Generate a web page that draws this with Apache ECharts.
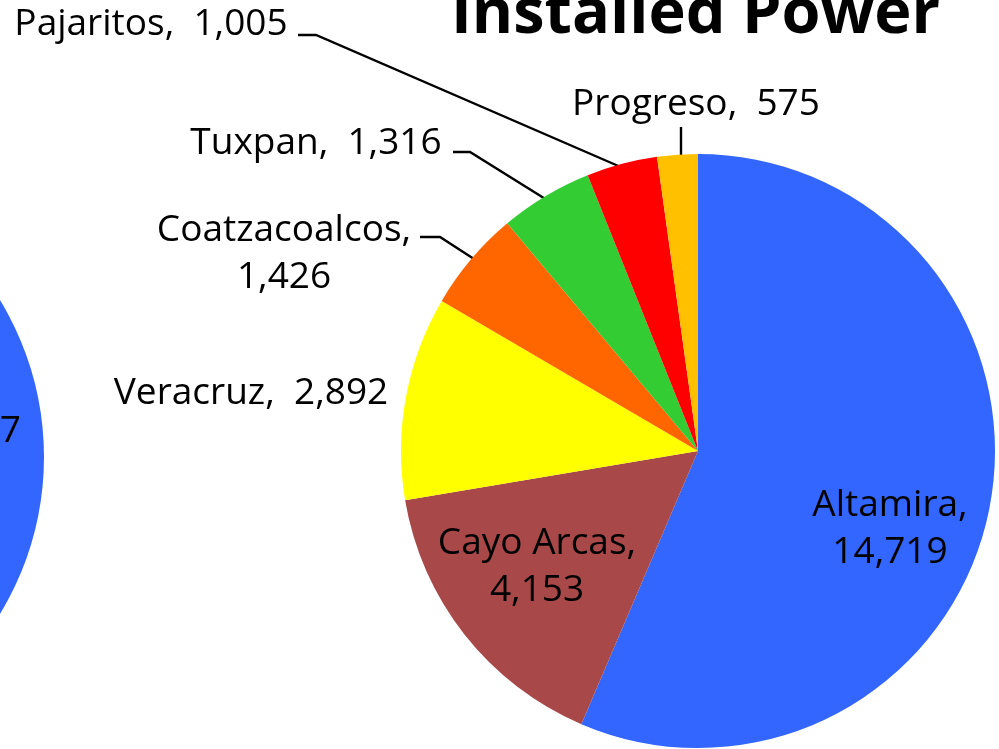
<!DOCTYPE html>
<html><head><meta charset="utf-8">
<script src="https://cdn.jsdelivr.net/npm/echarts@6/dist/echarts.min.js"></script>
<style>html,body{margin:0;padding:0;background:#fff}#c{width:999px;height:749px}</style>
</head><body><div id="c"></div>
<script>
const categories = ['Altamira', 'Cayo Arcas', 'Veracruz', 'Coatzacoalcos', 'Tuxpan', 'Pajaritos', 'Progreso'];
const values = [14719, 4153, 2892, 1426, 1316, 1005, 575];
const colors = ['#3366FF', '#A84848', '#FFFF00', '#FF6600', '#33CC33', '#FF0000', '#FFC000'];
const leftCategories = ['Altamira'];
const leftValues = [14717];
const titleText = 'Installed Power';

// label layout (style only)
const labelText = [
  'Altamira,\n14,719', 'Cayo Arcas,\n4,153', 'Veracruz,  2,892', 'Coatzacoalcos,\n1,426',
  'Tuxpan,  1,316', 'Pajaritos,  1,005', 'Progreso,  575'
];
const labelInside = [true, true, false, false, false, false, false];
const labelPos = [[890, 529], [537, 567], [251, 393], [284, 254], [316, 143], [151, 24], [696, 104]];
const linePts = [null, null, null,
  [[420, 237], [440, 237], [474, 259]],
  [[453, 152], [470, 152], [547, 200]],
  [[298, 35], [316, 35], [623, 168]],
  [[681, 127], [681, 127], [681, 158]]
];
const FONT = 'Open Sans';

const chart = echarts.init(document.getElementById('c'), null, {renderer: 'canvas'});
const fmt = v => v.toLocaleString('en-US');

chart.setOption({
  animation: false,
  graphic: [{
    type: 'text', left: 451, top: -16,
    style: {text: titleText, font: 'bold 63px "' + FONT + '"', fill: '#000'}
  }],
  series: [
    {
      type: 'pie', center: [698, 451], radius: 297, startAngle: 90, clockwise: true,
      silent: true, avoidLabelOverlap: false,
      itemStyle: {borderWidth: 0},
      label: {
        show: true, position: 'outside', color: '#000', fontFamily: FONT, fontSize: 37,
        lineHeight: 47, align: 'center',
        formatter: p => labelText[p.dataIndex]
      },
      labelLine: {show: true, lineStyle: {color: '#000', width: 2.4}},
      labelLayout: p => {
        const i = p.dataIndex;
        const o = {x: labelPos[i][0], y: labelPos[i][1], align: 'center', verticalAlign: 'middle'};
        if (linePts[i]) o.labelLinePoints = linePts[i];
        return o;
      },
      data: categories.map((c, i) => ({
        name: c, value: values[i], itemStyle: {color: colors[i]},
        label: {position: labelInside[i] ? 'inside' : 'outside'},
        labelLine: {show: !!linePts[i]}
      }))
    },
    {
      type: 'pie', center: [-258, 457], radius: 302, startAngle: 90, silent: true,
      label: {
        show: true, position: 'inside', color: '#000', fontFamily: FONT, fontSize: 37,
        formatter: p => fmt(p.value)
      },
      labelLine: {show: false},
      labelLayout: () => ({x: 21, y: 431, align: 'right', verticalAlign: 'middle'}),
      data: leftCategories.map((c, i) => ({name: c, value: leftValues[i], itemStyle: {color: '#3366FF'}}))
    }
  ]
});
</script></body></html>
